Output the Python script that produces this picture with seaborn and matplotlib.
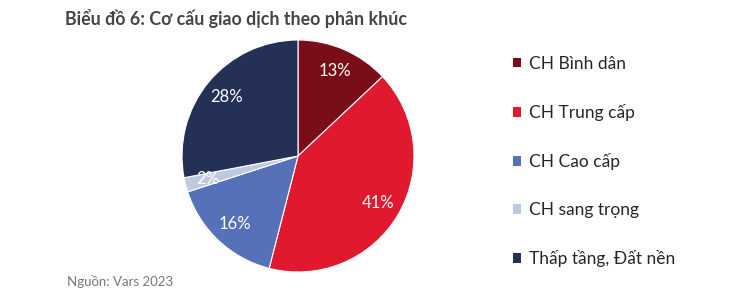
import matplotlib
matplotlib.use("Agg")
import matplotlib.pyplot as plt
import seaborn as sns
from matplotlib.patches import Patch

sns.set_theme(style="white")
plt.rcParams['font.family'] = ['Lato', 'DejaVu Sans']

categories = ["CH Bình dân", "CH Trung cấp", "CH Cao cấp", "CH sang trọng", "Thấp tầng, Đất nền"]
values = [13, 41, 16, 2, 28]
colors = ["#7A0E18", "#E0192E", "#5671B8", "#BDC9E2", "#243055"]
title = "Biểu đồ 6: Cơ cấu giao dịch theo phân khúc"
source = "Nguồn: Vars 2023"

fig = plt.figure(figsize=(7.5, 2.91), dpi=100)
cx, cy, r = 298, 156, 116
ax = fig.add_axes([(cx - r) / 750, (291 - cy - r) / 291, 2 * r / 750, 2 * r / 291])

wedges, texts, autotexts = ax.pie(
    values, colors=colors, startangle=90, counterclock=False,
    autopct=lambda p: f"{p:.0f}%", pctdistance=0.8,
    wedgeprops=dict(edgecolor="white", linewidth=0.8),
    textprops=dict(color="white", fontsize=12),
)
ax.set_xlim(-1, 1)
ax.set_ylim(-1, 1)
ax.set_aspect("equal")

fig.text(65 / 750, 1 - 18 / 291, title, fontsize=12.8, fontweight="bold",
         color="#454545", va="center", ha="left")
fig.text(67 / 750, 1 - 282 / 291, source, fontsize=9.5, color="#777777",
         va="center", ha="left")

handles = [Patch(facecolor=c, edgecolor="none") for c in colors]
fig.legend(handles, categories, loc="upper left",
           bbox_to_anchor=(497 / 750, 1 - 40 / 291), frameon=False,
           fontsize=12.5, handlelength=0.5, handleheight=0.5,
           handletextpad=0.45, labelspacing=1.85)

fig.savefig("out.png", dpi=100, facecolor="white")
